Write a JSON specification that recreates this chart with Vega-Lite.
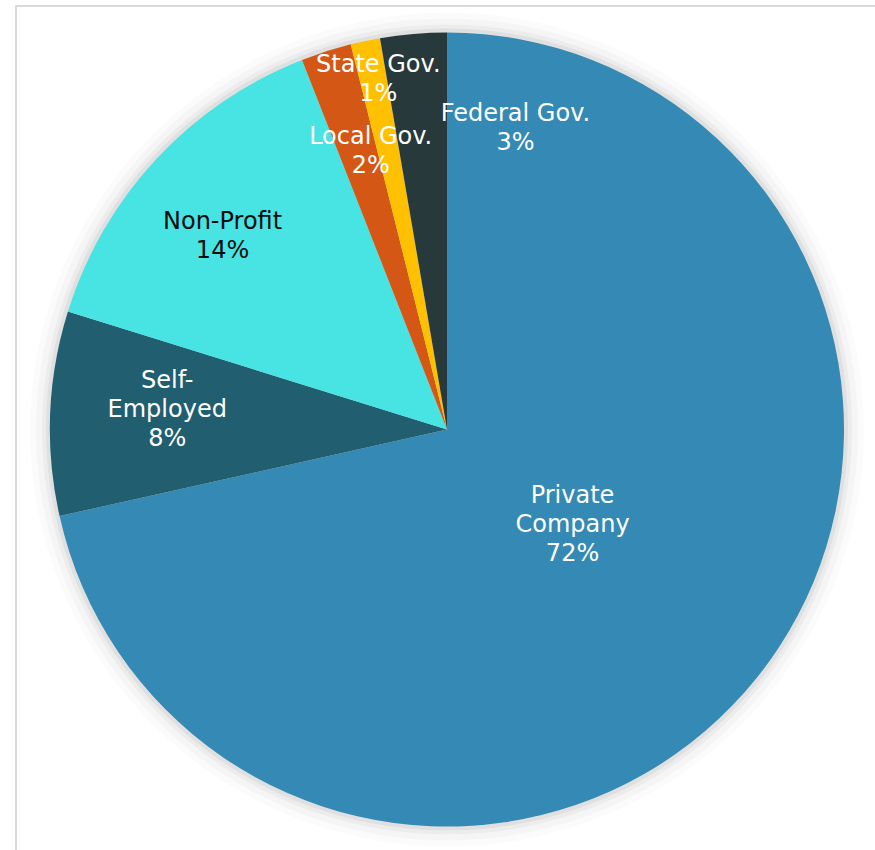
{
  "$schema": "https://vega.github.io/schema/vega-lite/v6.json",
  "width": 862,
  "height": 847,
  "padding": {"left": 16, "top": 6, "right": -3, "bottom": -3},
  "background": "white",
  "view": {"stroke": "#d9d9d9", "strokeWidth": 2},
  "config": {"view": {"stroke": "#d9d9d9", "strokeWidth": 2}},
  "data": {"values": [
    {"category": "Private Company", "value": 71.5, "order": 1, "label": "Private\nCompany\n72%"},
    {"category": "Self-Employed", "value": 8.3, "order": 2, "label": "Self-\nEmployed\n8%"},
    {"category": "Non-Profit", "value": 14.25, "order": 3, "label": "Non-Profit\n14%"},
    {"category": "Local Gov.", "value": 2.05, "order": 4, "label": "Local Gov.\n2%"},
    {"category": "State Gov.", "value": 1.2, "order": 5, "label": "State Gov.\n1%"},
    {"category": "Federal Gov.", "value": 2.7, "order": 6, "label": "Federal Gov.\n3%"}
  ]},
  "layer": [
    {"data": {"values": [{}]}, "encoding": {}, "mark": {"type": "arc", "theta": 0, "theta2": 6.2832, "outerRadius": 417, "fill": "#000", "opacity": 0.015}},
    {"data": {"values": [{}]}, "encoding": {}, "mark": {"type": "arc", "theta": 0, "theta2": 6.2832, "outerRadius": 411, "fill": "#000", "opacity": 0.025}},
    {"data": {"values": [{}]}, "encoding": {}, "mark": {"type": "arc", "theta": 0, "theta2": 6.2832, "outerRadius": 405, "fill": "#000", "opacity": 0.035}},
    {"data": {"values": [{}]}, "encoding": {}, "mark": {"type": "arc", "theta": 0, "theta2": 6.2832, "outerRadius": 401, "fill": "#000", "opacity": 0.05}},
    {
      "mark": {"type": "arc", "outerRadius": 397, "stroke": null},
      "encoding": {
        "theta": {"field": "value", "type": "quantitative", "stack": true},
        "order": {"field": "order", "type": "quantitative"},
        "color": {
          "field": "category", "type": "nominal", "legend": null,
          "scale": {
            "domain": ["Private Company", "Self-Employed", "Non-Profit", "Local Gov.", "State Gov.", "Federal Gov."],
            "range": ["#348AB4", "#215F70", "#48E3E3", "#D45716", "#FFC000", "#27393A"]
          }
        }
      }
    },
    {
      "mark": {"type": "text", "radius": 157, "dx": 3, "dy": -32, "fontSize": 24, "font": "DejaVu Sans", "lineHeight": 29, "lineBreak": "\n", "fill": "white", "align": "center", "baseline": "middle"},
      "encoding": {
        "theta": {"field": "value", "type": "quantitative", "stack": true},
        "order": {"field": "order", "type": "quantitative"},
        "text": {"condition": {"test": "datum.category === 'Private Company'", "field": "label", "type": "nominal"}, "value": ""}}
    },
    {
      "mark": {"type": "text", "radius": 280, "dx": 0, "dy": -37, "fontSize": 24, "font": "DejaVu Sans", "lineHeight": 29, "lineBreak": "\n", "fill": "white", "align": "center", "baseline": "middle"},
      "encoding": {
        "theta": {"field": "value", "type": "quantitative", "stack": true},
        "order": {"field": "order", "type": "quantitative"},
        "text": {"condition": {"test": "datum.category === 'Self-Employed'", "field": "label", "type": "nominal"}, "value": ""}}
    },
    {
      "mark": {"type": "text", "radius": 297, "dx": -7, "dy": -5.5, "fontSize": 24, "font": "DejaVu Sans", "lineHeight": 29, "lineBreak": "\n", "fill": "#0d0d0d", "align": "center", "baseline": "middle"},
      "encoding": {
        "theta": {"field": "value", "type": "quantitative", "stack": true},
        "order": {"field": "order", "type": "quantitative"},
        "text": {"condition": {"test": "datum.category === 'Non-Profit'", "field": "label", "type": "nominal"}, "value": ""}}
    },
    {
      "mark": {"type": "text", "radius": 290, "dx": 12, "dy": -16.5, "fontSize": 24, "font": "DejaVu Sans", "lineHeight": 29, "lineBreak": "\n", "fill": "white", "align": "center", "baseline": "middle"},
      "encoding": {
        "theta": {"field": "value", "type": "quantitative", "stack": true},
        "order": {"field": "order", "type": "quantitative"},
        "text": {"condition": {"test": "datum.category === 'Local Gov.'", "field": "label", "type": "nominal"}, "value": ""}}
    },
    {
      "mark": {"type": "text", "radius": 358, "dx": 5, "dy": -14.5, "fontSize": 24, "font": "DejaVu Sans", "lineHeight": 29, "lineBreak": "\n", "fill": "white", "align": "center", "baseline": "middle"},
      "encoding": {
        "theta": {"field": "value", "type": "quantitative", "stack": true},
        "order": {"field": "order", "type": "quantitative"},
        "text": {"condition": {"test": "datum.category === 'State Gov.'", "field": "label", "type": "nominal"}, "value": ""}}
    },
    {
      "mark": {"type": "text", "radius": 302, "dx": 94, "dy": -14.5, "fontSize": 24, "font": "DejaVu Sans", "lineHeight": 29, "lineBreak": "\n", "fill": "white", "align": "center", "baseline": "middle"},
      "encoding": {
        "theta": {"field": "value", "type": "quantitative", "stack": true},
        "order": {"field": "order", "type": "quantitative"},
        "text": {"condition": {"test": "datum.category === 'Federal Gov.'", "field": "label", "type": "nominal"}, "value": ""}}
    }
  ]
}
